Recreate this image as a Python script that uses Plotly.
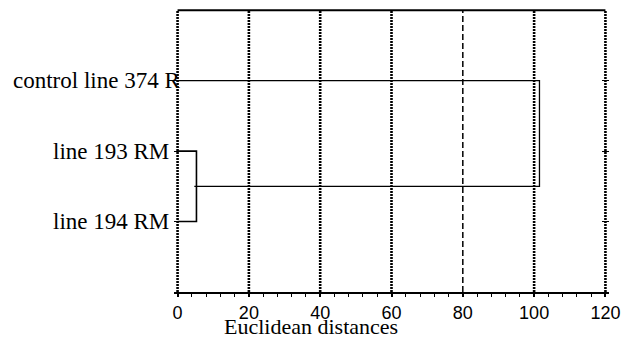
import plotly.graph_objects as go

# ---- data ----
labels = ["control line 374 R", "line 193 RM", "line 194 RM"]
leaf_pos = [3, 2, 1]               # vertical positions of the leaves (top to bottom)
merge_a = 5.3                      # distance at which line 193 RM and line 194 RM join
merge_b = 101.5                    # distance at which control joins the cluster
x_ticks = [0, 20, 40, 60, 80, 100, 120]
grid_dotted = [0, 20, 40, 60, 100, 120]
grid_dashed = [80]
x_title = "Euclidean distances"

fig = go.Figure()
line_style = dict(color="black", width=1.6)

# leaf branches of first cluster
y193, y194 = leaf_pos[1], leaf_pos[2]
ymid = (y193 + y194) / 2
fig.add_trace(go.Scatter(x=[0, merge_a, merge_a, 0], y=[y193, y193, y194, y194],
                         mode="lines", line=line_style, hoverinfo="skip"))
# cluster stem to second merge
fig.add_trace(go.Scatter(x=[merge_a - 0.6, merge_b, merge_b, 0],
                         y=[ymid, ymid, leaf_pos[0], leaf_pos[0]],
                         mode="lines", line=dict(color="black", width=1.3), hoverinfo="skip"))

shapes = []
for gx in grid_dotted:
    shapes.append(dict(type="line", xref="x", yref="y", x0=gx, x1=gx, y0=0, y1=4,
                       line=dict(color="black", width=2.6, dash="2px,1px"), layer="below"))
for gx in grid_dashed:
    shapes.append(dict(type="line", xref="x", yref="y", x0=gx, x1=gx, y0=0, y1=4,
                       line=dict(color="black", width=1.5, dash="6px,3px"), layer="below"))
# top border
shapes.append(dict(type="line", xref="x", yref="y", x0=0, x1=120, y0=4, y1=4,
                   line=dict(color="black", width=2)))

annotations = []
label_shift = [4, -7, -7]
serif = "Liberation Serif, Times New Roman, serif"
for lab, yp, sh in zip(labels, leaf_pos, label_shift):
    annotations.append(dict(x=0, y=yp, xref="x", yref="y", text=lab, showarrow=False,
                            xanchor="right", yanchor="middle", xshift=sh,
                            font=dict(family=serif, size=23, color="black")))
annotations.append(dict(x=37.5, y=0, xref="x", yref="y", text=x_title, showarrow=False,
                        xanchor="center", yanchor="middle", yshift=-34,
                        font=dict(family=serif, size=22, color="black")))

fig.update_layout(
    width=626, height=338,
    margin=dict(l=174.44, r=17.44, t=5.8, b=46),
    paper_bgcolor="white", plot_bgcolor="white",
    showlegend=False,
    shapes=shapes, annotations=annotations,
    xaxis=dict(range=[-1, 121], tickvals=x_ticks, showgrid=False, zeroline=False,
               showline=True, linecolor="black", linewidth=2,
               ticks="outside", ticklen=3, tickwidth=1.5, tickcolor="black",
               minor=dict(dtick=4, tick0=0, ticks="outside", ticklen=3, tickwidth=1.2,
                          tickcolor="black"),
               tickfont=dict(family="Liberation Sans, Arial, sans-serif", size=18,
                             color="black")),
    yaxis=dict(range=[0, 4.06], tickvals=leaf_pos, showticklabels=False, showgrid=False,
               zeroline=False, showline=False, ticks="inside", ticklen=7,
               tickcolor="black", tickwidth=1, mirror="ticks"),
)

fig.write_html("out.html", config={"displayModeBar": False},
               post_script="document.body.style.margin='0';document.body.style.overflow='hidden';")
